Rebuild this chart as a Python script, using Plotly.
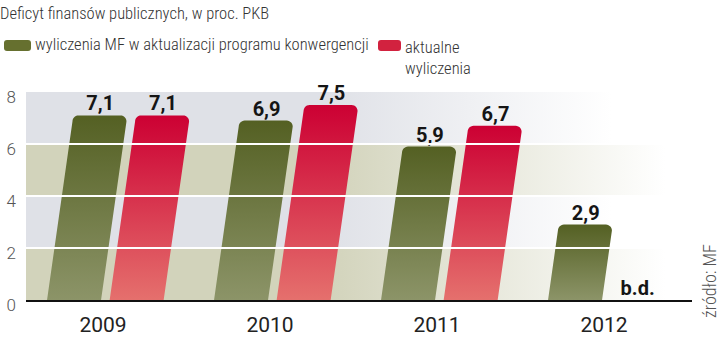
import plotly.graph_objects as go
import numpy as np

# ---------------- data ----------------
years = ["2009", "2010", "2011", "2012"]
mf_values = [7.1, 6.9, 5.9, 2.9]          # wyliczenia MF w aktualizacji programu konwergencji
current_values = [7.1, 7.5, 6.7, None]    # aktualne wyliczenia (2012: b.d.)
y_ticks = [0, 2, 4, 6, 8]
title_text = "Deficyt finansów publicznych, w proc. PKB"
legend_mf = "wyliczenia MF w aktualizacji programu konwergencji"
legend_cur = "aktualne<br>wyliczenia"
source_text = "źródło: MF"
missing_text = "b.d."

# ---------------- geometry / style ----------------
W, H = 720, 340
ML, MR, MT, MB = 26, 28, 92, 40
PW, PH = W - ML - MR, H - MT - MB
X_RANGE = [-0.461, 3.527]
Y_RANGE = [0, 8]
ux = PW / (X_RANGE[1] - X_RANGE[0])   # px per x unit
uy = PH / (Y_RANGE[1] - Y_RANGE[0])   # px per y unit

BAR_W = 54 / ux
SLANT = 3.7 / ux            # x-units shift per y-unit
GREEN_OFF = -0.335
RED_OFF = 0.04
RAD_PX = 6

GREEN_SCALE = [[0, "#8c9468"], [1, "#546023"]]
RED_SCALE = [[0, "#e5706d"], [1, "#cc0033"]]
BAND_A = "#d2d3bb"   # beige
BAND_B = "#dfe1e7"   # light blue-grey

FONT_TXT = "Roboto Condensed, Liberation Sans Narrow, Roboto, sans-serif"


def px2paper_x(px):
    return (px - ML) / PW


def px2paper_y(py):
    return (MT + PH - py) / PH


def bar_polygon(xl, v):
    rx = RAD_PX / ux
    ry = RAD_PX / uy
    xs, ys = [xl], [0]
    cx = xl + SLANT * (v - ry) + rx
    cy = v - ry
    for t in np.linspace(np.pi, np.pi / 2, 8):
        xs.append(cx + rx * np.cos(t))
        ys.append(cy + ry * np.sin(t))
    cx2 = xl + SLANT * (v - ry) + BAR_W - rx
    for t in np.linspace(np.pi / 2, 0, 8):
        xs.append(cx2 + rx * np.cos(t))
        ys.append(cy + ry * np.sin(t))
    xs.append(xl + BAR_W)
    ys.append(0)
    xs.append(xl)
    ys.append(0)
    return xs, ys


fig = go.Figure()

# background bands
for i in range(len(y_ticks) - 1):
    y0, y1 = y_ticks[i], y_ticks[i + 1]
    col = BAND_A if i % 2 == 0 else BAND_B
    fade = 0.96 if i % 2 == 0 else 0.88
    fig.add_trace(go.Scatter(
        x=[X_RANGE[0], X_RANGE[1], X_RANGE[1], X_RANGE[0], X_RANGE[0]],
        y=[y0, y0, y1, y1, y0],
        mode="none", fill="toself",
        fillgradient=dict(type="horizontal", start=X_RANGE[0], stop=X_RANGE[1],
                          colorscale=[[0, col], [0.45, col], [fade, "#ffffff"], [1, "#ffffff"]]),
        hoverinfo="skip", showlegend=False))

# bars
label_x, label_y, label_t = [], [], []
for k, (vm, vc) in enumerate(zip(mf_values, current_values)):
    for v, off, scale in ((vm, GREEN_OFF, GREEN_SCALE), (vc, RED_OFF, RED_SCALE)):
        xl = k + off
        if v is None:
            label_x.append(xl + BAR_W / 2)
            label_y.append(0)
            label_t.append(missing_text)
            continue
        xs, ys = bar_polygon(xl, v)
        fig.add_trace(go.Scatter(
            x=xs, y=ys, mode="none", fill="toself",
            fillgradient=dict(type="vertical", start=0, stop=v, colorscale=scale),
            hoverinfo="skip", showlegend=False))
        label_x.append(xl + SLANT * v + BAR_W / 2)
        label_y.append(v)
        label_t.append(f"{v:.1f}".replace(".", ","))

# white grid lines above bars
for yt in y_ticks[1:-1]:
    fig.add_shape(type="line", xref="paper", yref="y", x0=0, x1=1, y0=yt, y1=yt,
                  line=dict(color="white", width=2), layer="above")

# value labels
fig.add_trace(go.Scatter(
    x=label_x, y=label_y, text=label_t, mode="text", textposition="top center",
    textfont=dict(family="Roboto", size=20, color="#151515", weight="bold"),
    hoverinfo="skip", showlegend=False, cliponaxis=False))

# title
TXT_FONT = dict(family=FONT_TXT, size=16.5, color="#333333", weight=300)
fig.add_annotation(text=title_text, xref="paper", yref="paper",
                   x=px2paper_x(-2), y=px2paper_y(13), xanchor="left", yanchor="middle",
                   showarrow=False, font=TXT_FONT)

# legend
def swatch(x0, x1, y0, y1, color):
    r = 3
    path = (f"M {px2paper_x(x0 + r)} {px2paper_y(y0)} L {px2paper_x(x1 - r)} {px2paper_y(y0)} "
            f"Q {px2paper_x(x1)} {px2paper_y(y0)} {px2paper_x(x1)} {px2paper_y(y0 + r)} "
            f"L {px2paper_x(x1)} {px2paper_y(y1 - r)} "
            f"Q {px2paper_x(x1)} {px2paper_y(y1)} {px2paper_x(x1 - r)} {px2paper_y(y1)} "
            f"L {px2paper_x(x0 + r)} {px2paper_y(y1)} "
            f"Q {px2paper_x(x0)} {px2paper_y(y1)} {px2paper_x(x0)} {px2paper_y(y1 - r)} "
            f"L {px2paper_x(x0)} {px2paper_y(y0 + r)} "
            f"Q {px2paper_x(x0)} {px2paper_y(y0)} {px2paper_x(x0 + r)} {px2paper_y(y0)} Z")
    fig.add_shape(type="path", path=path, xref="paper", yref="paper",
                  fillcolor=color, line=dict(width=0), layer="above")

swatch(4, 31, 40, 51, "#66702f")
swatch(378, 401, 40, 51, "#d2223f")
fig.add_annotation(text=legend_mf, xref="paper", yref="paper",
                   x=px2paper_x(33), y=px2paper_y(45), xanchor="left", yanchor="middle",
                   showarrow=False, font=TXT_FONT)
fig.add_annotation(text=legend_cur, xref="paper", yref="paper", align="left",
                   x=px2paper_x(403), y=px2paper_y(58), xanchor="left", yanchor="middle",
                   showarrow=False, font=TXT_FONT)

# source
fig.add_annotation(text=source_text, xref="paper", yref="paper", textangle=-90,
                   x=px2paper_x(709), y=px2paper_y(281), xanchor="center", yanchor="middle",
                   showarrow=False, font=dict(family=FONT_TXT, size=18, color="#555555", weight=300))

fig.update_layout(
    width=W, height=H,
    margin=dict(l=ML, r=MR, t=MT, b=MB),
    paper_bgcolor="white", plot_bgcolor="white",
    showlegend=False,
    xaxis=dict(range=X_RANGE, tickvals=list(range(len(years))), ticktext=years,
               showgrid=False, zeroline=False, showline=True, linecolor="#111111", linewidth=2,
               ticks="", ticklabelstandoff=5, automargin=False,
               tickfont=dict(family="Roboto", size=21, color="#222222"),
               fixedrange=True),
    yaxis=dict(range=Y_RANGE, tickvals=y_ticks, showgrid=False, zeroline=False,
               ticks="", ticklabelshift=5, ticklabelstandoff=9, automargin=False,
               tickfont=dict(family="Roboto", size=17, color="#555555", weight=300),
               fixedrange=True),
)

fig.write_html("out.html", config={"displayModeBar": False})
